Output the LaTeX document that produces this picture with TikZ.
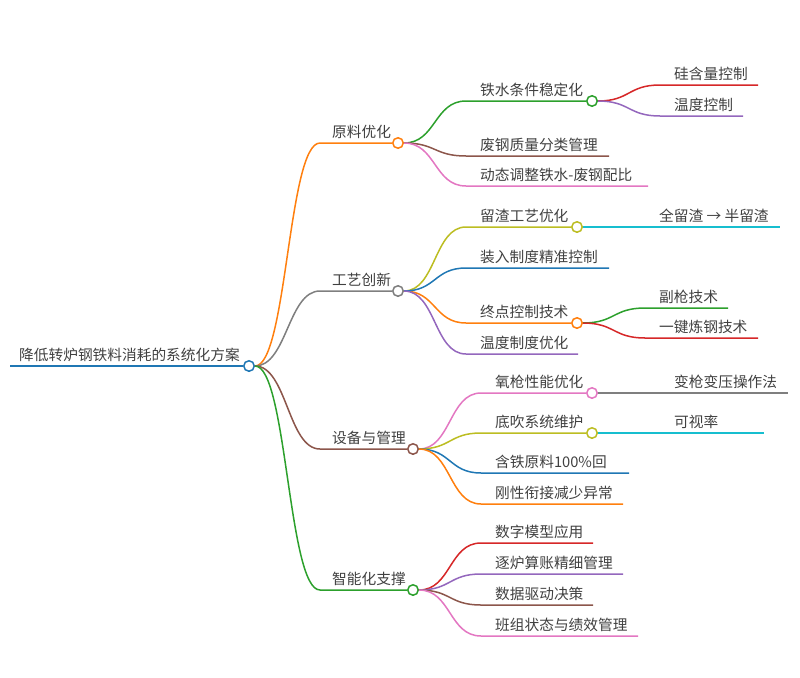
\documentclass[tikz,border=0pt]{standalone}
\usepackage{fontspec}
\setmainfont{Noto Sans CJK SC}

\definecolor{cblue}{HTML}{1F77B4}
\definecolor{corange}{HTML}{FF7F0E}
\definecolor{cgreen}{HTML}{2CA02C}
\definecolor{cred}{HTML}{D62728}
\definecolor{cpurple}{HTML}{9467BD}
\definecolor{cbrown}{HTML}{8C564B}
\definecolor{cpink}{HTML}{E377C2}
\definecolor{cgray}{HTML}{7F7F7F}
\definecolor{colive}{HTML}{BCBD22}
\definecolor{ccyan}{HTML}{17BECF}

\tikzset{
    branch/.style={line width=1.5pt},
    knot/.style={circle, draw, fill=white, line width=1.5pt, minimum size=10.5pt, inner sep=0},
    txt/.style={anchor=base west, inner sep=0, text=black!75, font=\fontsize{14.7pt}{17pt}\selectfont}
}

\begin{document}
\begin{tikzpicture}[x=1pt,y=-1pt]
                \newcommand{\bend}{32}
                \useasboundingbox (0,0) rectangle (800,677);

                % Draw root
                \coordinate (root-h) at (10,366);
                \node[knot, draw=cblue] (root) at (249,366) {};
                \draw[branch, cblue, line width=1.8pt] (root-h) -- (root.west);
                \node[txt] (root-t) at (19,360) {降低转炉钢铁料消耗的系统化方案};

                % Draw main branches
                \foreach \n/\cx/\y/\col/\lbl in {raw/398/143/corange/原料优化, craft/398/291/cgray/工艺创新, equip/413/449/cbrown/设备与管理, smart/413/590/cgreen/智能化支撑} {
                    \coordinate (\n-h) at (320,\y);
                    \node[knot, draw=\col] (\n) at (\cx,\y) {};
                    \draw[branch, \col] (root.east) .. controls +(\bend,0) and +(-\bend,0) .. (\n-h) -- (\n.west);
                    \node[txt] (\n-t) at (332,\y-6) {\lbl};
                }

                % Draw sub branches with circles
                \foreach \p/\n/\hx/\tx/\y/\cx/\col/\lbl in {raw/iron/466/480/101/592/cgreen/铁水条件稳定化, craft/slag/466/480/227/577/colive/留渣工艺优化, craft/endpt/466/480/323/577/corange/终点控制技术, equip/lance/481/495/393/592/cpink/氧枪性能优化, equip/blow/481/495/433/592/colive/底吹系统维护} {
                    \coordinate (\n-h) at (\hx,\y);
                    \node[knot, draw=\col] (\n) at (\cx,\y) {};
                    \draw[branch, \col] (\p.east) .. controls +(\bend,0) and +(-\bend,0) .. (\n-h) -- (\n.west);
                    \node[txt] (\n-t) at (\tx,\y-6) {\lbl};
                }

                % Draw leaves
                \foreach \p/\n/\hx/\tx/\y/\e/\col/\lbl in {
                    raw/scrap/466/480/156/609/cbrown/废钢质量分类管理,
                    raw/ratio/466/480/186/648/cpink/动态调整铁水-废钢配比,
                    craft/charge/466/480/268/609/cblue/装入制度精准控制,
                    craft/tsys/466/480/354/578/cpurple/温度制度优化,
                    equip/recyc/481/495/473/629/cblue/含铁原料100\%回,
                    equip/link/481/495/504/623/corange/刚性衔接减少异常,
                    smart/model/481/495/543/593/cred/数字模型应用,
                    smart/acct/481/495/574/623/cpurple/逐炉算账精细管理,
                    smart/data/481/495/605/593/cbrown/数据驱动决策,
                    smart/team/481/495/636/638/cpink/班组状态与绩效管理,
                    iron/silicon/660/674/85/758/cred/硅含量控制,
                    iron/tctrl/660/674/116/743/cpurple/温度控制,
                    slag/half/645/659/227/780/ccyan/全留渣 → 半留渣,
                    endpt/sublance/645/659/308/728/cgreen/副枪技术,
                    endpt/onekey/645/659/338/758/cred/一键炼钢技术,
                    lance/vary/660/674/393/788/cgray/变枪变压操作法,
                    blow/visible/660/674/433/764/ccyan/可视率} {
                    \coordinate (\n-h) at (\hx,\y);
                    \coordinate (\n-e) at (\e,\y);
                    \draw[branch, \col] (\p.east) .. controls +(\bend,0) and +(-\bend,0) .. (\n-h) -- (\n-e);
                    \node[txt] (\n-t) at (\tx,\y-6) {\lbl};
                }
            \end{tikzpicture}
\end{document}
